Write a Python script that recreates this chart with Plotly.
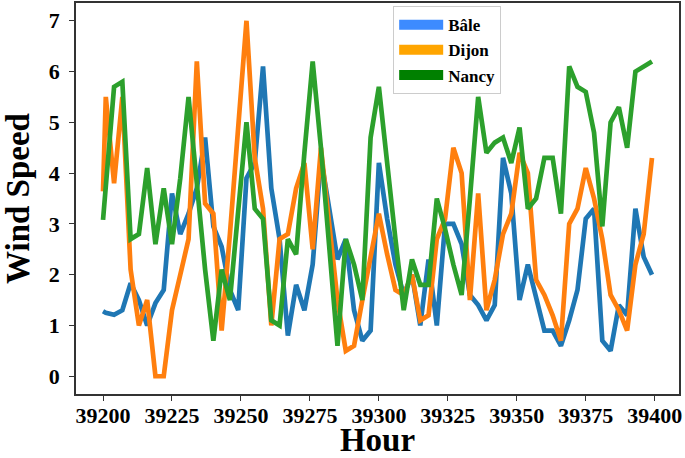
import plotly.graph_objects as go

# hours: one leading point, then every 3 hours
hours = [39200] + [39201 + 3 * k for k in range(67)]

bale = [1.28,
        1.25, 1.21, 1.3, 1.83, 1.5, 1.0, 1.44, 1.7, 3.6, 2.8,
        3.2, 3.7, 4.7, 2.95, 2.55, 1.7, 1.3, 3.9, 4.2, 6.1,
        3.7, 2.7, 0.8, 1.8, 1.3, 2.2, 4.3, 3.3, 2.3, 2.7,
        1.3, 0.7, 0.9, 4.2, 3.1, 2.2, 1.6, 2.0, 1.0, 2.3,
        1.0, 3.0, 3.0, 2.6, 1.6, 1.4, 1.1, 1.4, 4.3, 3.6,
        1.5, 2.2, 1.5, 0.9, 0.9, 0.6, 1.1, 1.7, 3.1, 3.3,
        0.7, 0.5, 1.4, 1.2, 3.3, 2.35, 2.0]

dijon = [3.64,
         5.5, 3.8, 5.5, 2.1, 1.0, 1.5, 0.0, 0.0, 1.3, 2.0,
         2.7, 6.2, 3.4, 3.2, 0.9, 2.8, 4.9, 7.0, 4.3, 3.3,
         1.0, 2.7, 2.8, 3.7, 4.2, 2.5, 4.5, 2.9, 1.5, 0.5,
         0.6, 1.5, 2.3, 3.2, 2.4, 1.7, 1.6, 2.0, 1.1, 1.2,
         2.7, 3.1, 4.5, 4.0, 1.5, 3.6, 1.3, 1.9, 2.8, 3.2,
         4.4, 4.0, 1.9, 1.6, 1.2, 0.7, 3.0, 3.3, 4.1, 3.5,
         2.7, 1.6, 1.3, 0.9, 2.2, 2.8, 4.3]

nancy = [3.08,
         3.7, 5.7, 5.8, 2.7, 2.8, 4.1, 2.6, 3.7, 2.6, 3.9,
         5.5, 3.8, 2.1, 0.7, 2.1, 1.5, 3.2, 5.0, 3.3, 3.1,
         1.1, 1.0, 2.7, 2.4, 4.4, 6.2, 4.5, 2.6, 0.6, 2.7,
         2.2, 1.5, 4.7, 5.7, 4.1, 2.7, 1.3, 2.3, 1.8, 1.8,
         3.5, 2.9, 2.2, 1.6, 3.5, 5.5, 4.4, 4.6, 4.7, 4.2,
         4.9, 3.3, 3.5, 4.3, 4.3, 3.2, 6.1, 5.7, 5.6, 4.8,
         2.95, 5.0, 5.3, 4.5, 6.0, 6.1, 6.2]

names = ["Bâle", "Dijon", "Nancy"]
line_colors = ["#1f77b4", "#ff7f0e", "#2ca02c"]
patch_colors = ["#3d8bff", "#ffa500", "#008000"]

x_ticks = list(range(39200, 39401, 25))
x_labels = [str(v) for v in x_ticks]
y_ticks = list(range(0, 8))

serif = "Times New Roman, Liberation Serif, serif"

fig = go.Figure()
for series, name, col in zip([bale, dijon, nancy], names, line_colors):
    fig.add_trace(go.Scatter(x=hours, y=series, mode="lines", name=name,
                             line=dict(color=col, width=4.7), showlegend=False))

# legend-only entries drawn as colour patches
for name, col in zip(names, patch_colors):
    fig.add_trace(go.Scatter(x=[None], y=[None], mode="lines", name=name,
                             line=dict(color=col, width=13)))

axis_common = dict(
    showline=True, mirror=True, linecolor="#333333", linewidth=1.5,
    ticks="outside", ticklen=5, tickwidth=1.3, tickcolor="#333333",
    showgrid=False, zeroline=False, automargin=False,
    tickfont=dict(family=serif, size=22, color="black", weight="bold"),
)

fig.update_xaxes(range=[39190.2, 39408.8], tickvals=x_ticks, ticktext=x_labels,
                 tickangle=0, ticklabelstandoff=-4,
                 title=dict(text="Hour", standoff=6,
                            font=dict(family=serif, size=33, color="black", weight="bold")),
                 **axis_common)
fig.update_yaxes(range=[-0.35, 7.35], tickvals=y_ticks, ticklabelstandoff=5,
                 title=dict(text="Wind Speed", standoff=9,
                            font=dict(family=serif, size=33, color="black", weight="bold")),
                 **axis_common)

fig.update_layout(
    width=685, height=458,
    margin=dict(l=76, r=6, t=3, b=64),
    paper_bgcolor="white", plot_bgcolor="white",
    legend=dict(x=0.526, y=0.992, xanchor="left", yanchor="top",
                bgcolor="rgba(255,255,255,0.8)", bordercolor="#cccccc", borderwidth=1,
                font=dict(family=serif, size=17, color="black", weight="bold"),
                itemwidth=44, tracegroupgap=0),
    showlegend=True,
)

fig.write_html("out.html", config={"displayModeBar": False},
               post_script="document.body.style.margin='0px';")
